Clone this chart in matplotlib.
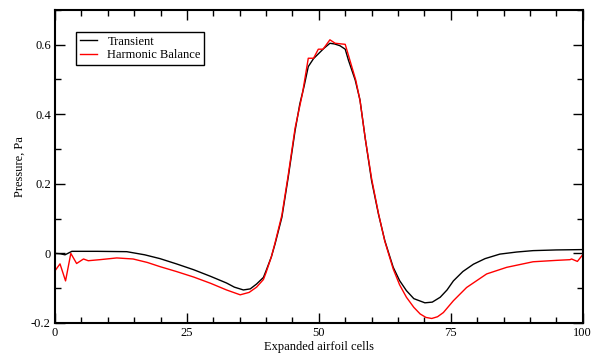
import matplotlib
matplotlib.use("Agg")
import matplotlib.pyplot as plt
from matplotlib.ticker import MultipleLocator

plt.rcParams["font.family"] = ["Liberation Serif", "DejaVu Serif"]

# Transient solution
trans_x = [0, 1, 1.9, 3.2, 8, 13.6, 17, 19.9, 23, 26.3, 29.5, 32.5, 34, 35.7,
           37, 38.2, 39.5, 40.0, 41.0, 41.7, 43.0, 44.2, 45.5, 46.4, 47.2, 48,
           49, 50, 51, 52.1, 53, 54, 55, 55.6, 56.9, 57.8, 58.8, 60.0, 61.3,
           62.5, 63.3, 64.1, 65.3, 66.6, 68, 70.1, 71.5, 73, 74.3, 75.5, 77.3,
           79.3, 81.5, 84.3, 87.5, 90.6, 95, 100]
trans_y = [0.0, -0.001, -0.004, 0.006, 0.006, 0.005, -0.004, -0.015, -0.03,
           -0.047, -0.066, -0.085, -0.097, -0.105, -0.102, -0.088, -0.069, -0.05,
           -0.01, 0.027, 0.104, 0.219, 0.353, 0.43, 0.48, 0.537, 0.56, 0.575,
           0.59, 0.604, 0.602, 0.597, 0.587, 0.556, 0.498, 0.441, 0.33, 0.209,
           0.113, 0.037, -0.002, -0.04, -0.078, -0.107, -0.13, -0.142, -0.14,
           -0.126, -0.105, -0.079, -0.052, -0.031, -0.015, -0.002, 0.004, 0.008,
           0.01, 0.011]

# Harmonic balance solution
hb_x = [0, 0.95, 2.0, 3.0, 4.1, 5.4, 6.3, 8.5, 11.7, 14.8, 17.5, 19.9, 23,
        26.3, 29.5, 32.5, 35.1, 36.8, 38.2, 39.5, 40.0, 41.0, 41.7, 43.0, 44.2,
        45.5, 46.9, 48.0, 49.0, 49.9, 50.8, 52.1, 53.1, 55.0, 57.0, 57.8, 58.8,
        60.0, 61.3, 62.5, 63.3, 64.1, 65.3, 66.6, 68, 69.2, 70.3, 71.4, 72.5,
        73.6, 75.5, 78.0, 81.8, 85.6, 90.6, 95, 97.6, 97.9, 99.0, 100]
hb_y = [-0.05, -0.03, -0.079, 0.0, -0.029, -0.016, -0.021, -0.018, -0.013,
        -0.016, -0.026, -0.038, -0.052, -0.068, -0.086, -0.105, -0.119, -0.112,
        -0.097, -0.075, -0.055, -0.01, 0.03, 0.11, 0.225, 0.36, 0.46, 0.561,
        0.561, 0.587, 0.587, 0.614, 0.604, 0.601, 0.498, 0.44, 0.33, 0.215,
        0.115, 0.035, -0.005, -0.045, -0.09, -0.126, -0.155, -0.174, -0.184,
        -0.187, -0.182, -0.17, -0.136, -0.098, -0.059, -0.04, -0.024, -0.02,
        -0.018, -0.016, -0.023, -0.004]

fig = plt.figure(figsize=(6.01, 3.53), dpi=100)
ax = fig.add_axes([0.0915, 0.085, 0.878, 0.887])

ax.plot(trans_x, trans_y, color="black", lw=1.0, label="Transient")
ax.plot(hb_x, hb_y, color="red", lw=1.0, label="Harmonic Balance")

ax.set_xlim(0, 100)
ax.set_ylim(-0.2, 0.7)
ax.xaxis.set_major_locator(MultipleLocator(25))
ax.xaxis.set_minor_locator(MultipleLocator(5))
ax.yaxis.set_minor_locator(MultipleLocator(0.1))
ax.set_yticks([-0.2, 0, 0.2, 0.4, 0.6])
ax.set_yticklabels(["-0.2", "0", "0.2", "0.4", "0.6"])
ax.tick_params(which="both", direction="in", top=True, right=True,
               labelsize=9, width=1.0, pad=3)
ax.tick_params(which="major", length=7)
ax.tick_params(which="minor", length=4)
for s in ax.spines.values():
    s.set_linewidth(1.5)

ax.set_xlabel("Expanded airfoil cells", fontsize=9, labelpad=1)
ax.set_ylabel("Pressure, Pa", fontsize=9, labelpad=4)

leg = ax.legend(loc="upper left", bbox_to_anchor=(0.04, 0.93), fontsize=9,
                handlelength=1.4, borderpad=0.3, labelspacing=0.15,
                fancybox=False, framealpha=1, borderaxespad=0)
leg.get_frame().set_edgecolor("black")
leg.get_frame().set_linewidth(1.0)

fig.savefig("out.png", dpi=100)
